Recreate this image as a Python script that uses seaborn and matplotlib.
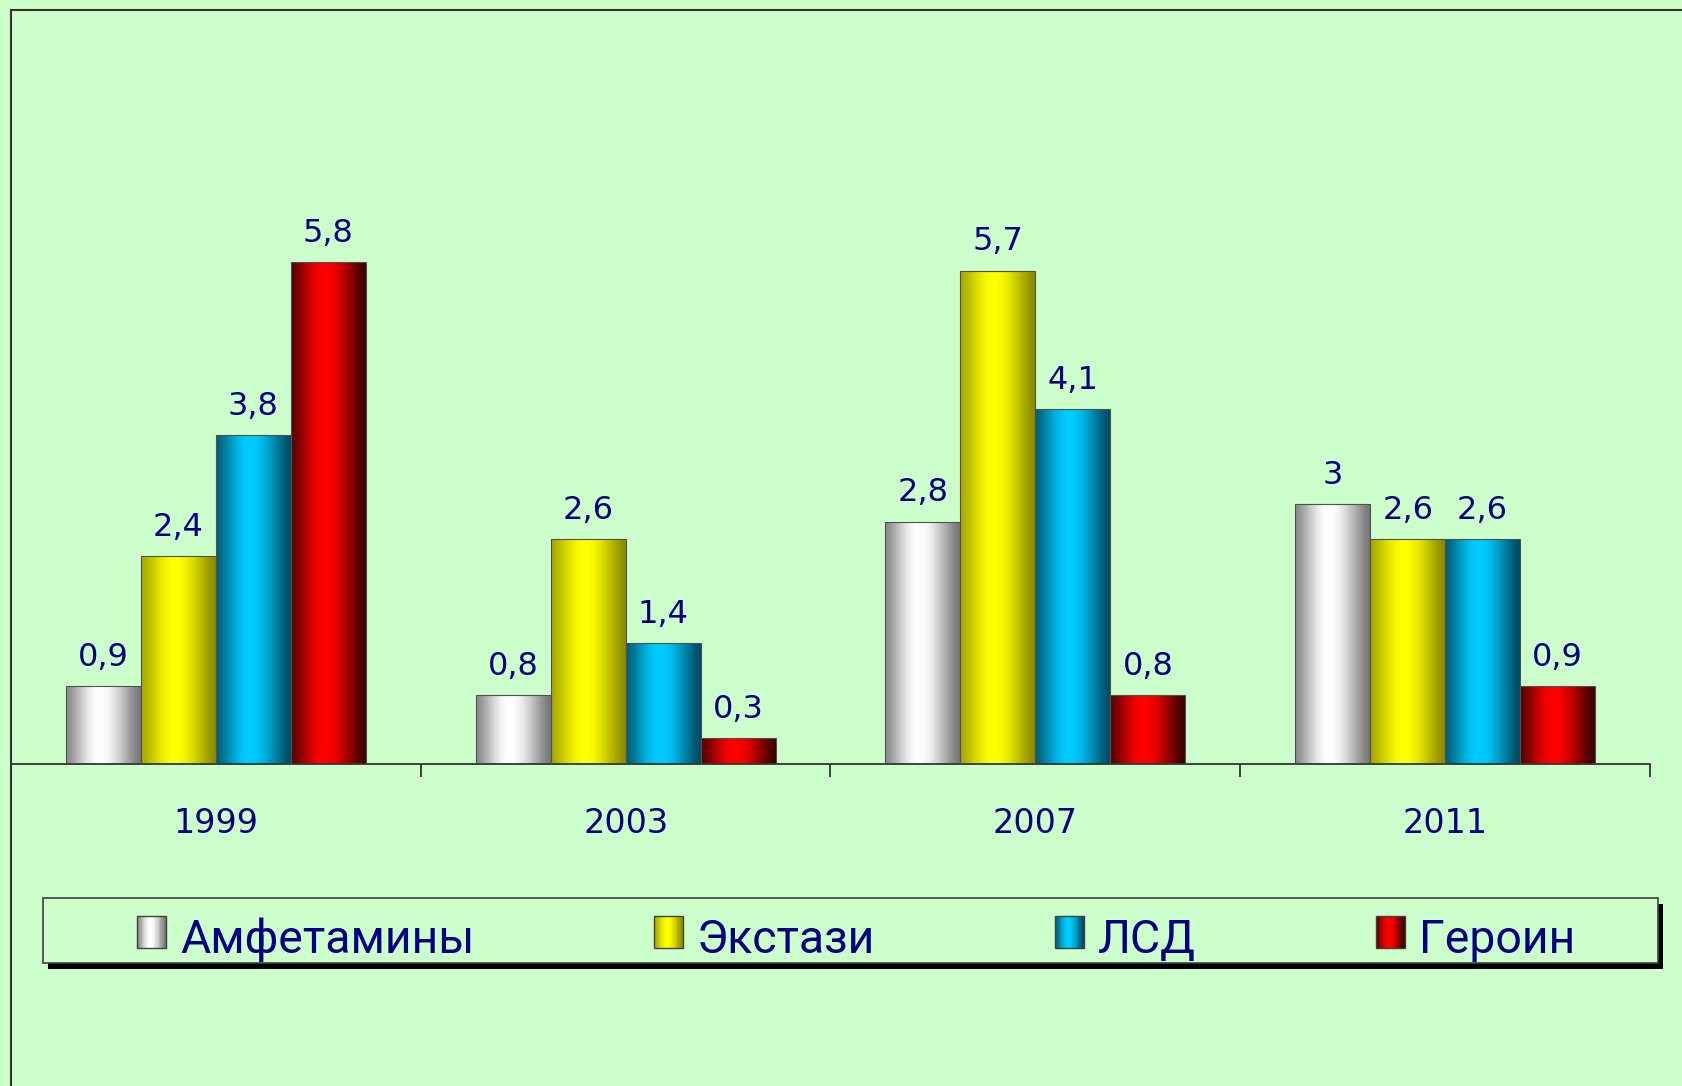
import numpy as np
import pandas as pd
import matplotlib
matplotlib.use('Agg')
import matplotlib.pyplot as plt
import seaborn as sns
from matplotlib.patches import Rectangle, Patch
from matplotlib.lines import Line2D
from matplotlib.legend_handler import HandlerBase
from matplotlib.colors import to_rgb

# ---------------- data ----------------
years = ['1999', '2003', '2007', '2011']
series = ['Амфетамины', 'Экстази', 'ЛСД', 'Героин']
amphetamines = [0.9, 0.8, 2.8, 3.0]
ecstasy = [2.4, 2.6, 5.7, 2.6]
lsd = [3.8, 1.4, 4.1, 2.6]
heroin = [5.8, 0.3, 0.8, 0.9]

# (left edge, centre, right edge) colours of the cylinder-like shading
shades = {
    'Амфетамины': ('#8a8a8a', '#ffffff', '#787878'),
    'Экстази': ('#a8a800', '#ffff00', '#8c8c00'),
    'ЛСД': ('#005f78', '#00ccff', '#004c63'),
    'Героин': ('#5a0000', '#ff0000', '#3a0000'),
}
BG = '#CCFFCC'
NAVY = '#000080'
W, H = 1683, 1086

plt.rcParams['font.family'] = ['Roboto', 'DejaVu Sans']
NUM_FONT = 'DejaVu Sans'


def gradient_rgb(cols, n=128, peak=0.45):
    l, c, r = (np.array(to_rgb(x)) for x in cols)
    t = np.linspace(0, 1, n)
    out = np.empty((n, 3))
    for i, ti in enumerate(t):
        if ti <= peak:
            s = (1 - np.cos(np.pi * ti / peak)) / 2
            out[i] = l + (c - l) * s ** 0.7
        else:
            s = (1 + np.cos(np.pi * (ti - peak) / (1 - peak))) / 2
            out[i] = r + (c - r) * s ** 0.7
    return np.clip(out, 0, 1)


df = pd.DataFrame({
    'year': years * 4,
    'drug': np.repeat(series, len(years)),
    'value': amphetamines + ecstasy + lsd + heroin,
})
values_by_series = dict(zip(series, [amphetamines, ecstasy, lsd, heroin]))

fig = plt.figure(figsize=(W / 100, H / 100), dpi=100, facecolor=BG)
ax = fig.add_axes([11 / W, 1 - 764 / H, (1650 - 11) / W, (764 - 10) / H])
ax.set_facecolor('none')

palette = {k: v[1] for k, v in shades.items()}
sns.barplot(data=df, x='year', y='value', hue='drug', hue_order=series,
            order=years, palette=palette, width=0.732, saturation=1,
            edgecolor='#505050', linewidth=0.8, legend=False, errorbar=None,
            ax=ax)

for name, cont in zip(series, ax.containers):
    grad = gradient_rgb(shades[name])[np.newaxis, :, :]
    for bar in cont:
        x0, y0 = bar.get_x(), bar.get_y()
        w, h = bar.get_width(), bar.get_height()
        bar.set_facecolor('none')
        bar.set_zorder(3)
        im = ax.imshow(grad, extent=(x0, x0 + w, y0, y0 + h), aspect='auto',
                       interpolation='bilinear', zorder=2)
        im.set_clip_path(bar)
    labels = [f"{v:g}".replace('.', ',') for v in values_by_series[name]]
    ax.bar_label(cont, labels=labels, padding=9.5, fontsize=23,
                 color=NAVY, family=NUM_FONT)

ax.set_xlim(-0.5, 3.5)
ax.set_ylim(0, (764 - 10) / 86.55)
ax.set_xlabel('')
ax.set_ylabel('')
ax.set_yticks([])
for s in ['top', 'right', 'left']:
    ax.spines[s].set_visible(False)
ax.spines['bottom'].set_color('#333333')
ax.spines['bottom'].set_linewidth(1.3)
ax.set_xticks(range(len(years)))
ax.set_xticklabels(years, family=NUM_FONT)
ax.tick_params(axis='x', which='major', length=0, pad=31, labelsize=24,
               labelcolor=NAVY)
ax.set_xticks([0.5, 1.5, 2.5, 3.5], minor=True)
ax.tick_params(axis='x', which='minor', length=9.4, width=1.3,
               color='#333333', direction='out')

# outer chart frame (left and top edges)
fig.add_artist(Line2D([11 / W, 11 / W], [0, 1 - 10 / H], transform=fig.transFigure,
                      color='#333333', lw=1.5, zorder=4))
fig.add_artist(Line2D([11 / W, 1], [1 - 10 / H, 1 - 10 / H], transform=fig.transFigure,
                      color='#333333', lw=1.5, zorder=4))


class GradHandler(HandlerBase):
    def __init__(self, cols):
        super().__init__()
        self.cols = cols

    def create_artists(self, legend, orig_handle, xdescent, ydescent, width,
                       height, fontsize, trans):
        grad = gradient_rgb(self.cols, n=24)
        n = len(grad)
        yoff = 3.6
        arts = []
        for i, c in enumerate(grad):
            arts.append(Rectangle((-xdescent + width * i / n, -ydescent + yoff),
                                  width / n * 1.05, height, facecolor=c,
                                  edgecolor='none', transform=trans))
        arts.append(Rectangle((-xdescent, -ydescent + yoff), width, height,
                              facecolor='none', edgecolor='#404040', lw=1.0,
                              transform=trans))
        return arts


handles = [Patch(facecolor=shades[n][1]) for n in series]
hmap = {h: GradHandler(shades[n]) for h, n in zip(handles, series)}

# legend frame + shadow
fx0, fy0, fw, fh = 43 / W, 1 - 963 / H, 1615 / W, 65 / H
fig.add_artist(Rectangle((fx0 + 5 / W, fy0 - 6 / H), fw, fh, transform=fig.transFigure,
                         facecolor='black', edgecolor='none', zorder=2))
fig.add_artist(Rectangle((fx0, fy0), fw, fh, transform=fig.transFigure,
                         facecolor=BG, edgecolor='#404040', lw=1.2, zorder=3))

fig.legend(handles, series, handler_map=hmap, loc='center',
           bbox_to_anchor=(137 / W, 1 - (940 + 32.5) / H, (1575 - 137) / W, 65 / H),
           bbox_transform=fig.transFigure, mode='expand', ncol=4, frameon=False,
           borderpad=0, borderaxespad=0, handlelength=0.63, handleheight=0.67,
           handletextpad=0.3, columnspacing=1,
           prop={'family': ['Roboto', 'DejaVu Sans'], 'size': 33.4},
           labelcolor=NAVY)

fig.savefig('out.png', dpi=100, facecolor=BG)
